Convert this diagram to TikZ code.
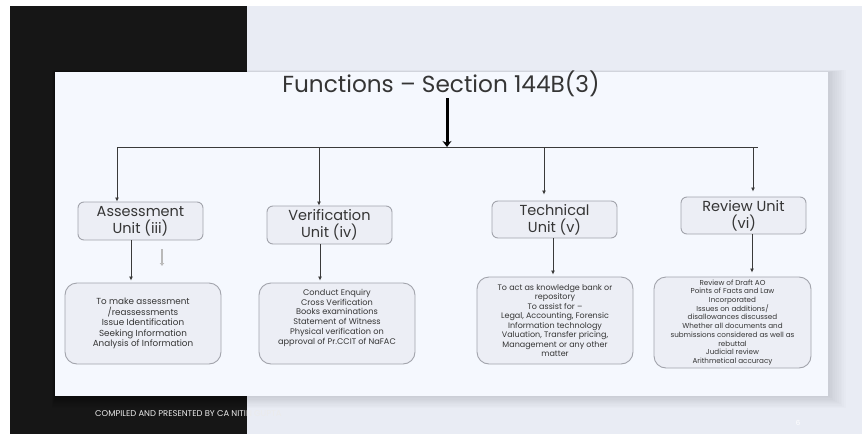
\documentclass[tikz,border=0pt]{standalone}
\usepackage{fontspec}
\setmainfont{Poppins}
\usetikzlibrary{arrows.meta}
\definecolor{slidebg}{HTML}{F5F8FE}
\definecolor{outerbg}{HTML}{E9ECF4}
\definecolor{darkband}{HTML}{161616}
\definecolor{boxfill}{HTML}{ECEEF5}
\definecolor{boxline}{HTML}{A2A4AC}
\definecolor{ink}{HTML}{353535}
\definecolor{wire}{HTML}{3A3A3A}
\tikzset{
  unitbox/.style={draw=boxline, fill=boxfill, line width=0.9pt, rounded corners=6pt,
    minimum width=125pt, minimum height=38pt, inner sep=0pt, align=center, text=ink,
    font=\fontsize{14.5}{16.8}\selectfont},
  detailbox/.style={draw=boxline, fill=boxfill, line width=0.9pt, rounded corners=12pt,
    minimum width=156pt, inner sep=0pt, align=center, text=ink},
  feed/.style={draw=wire, line width=0.9pt, -{Latex[length=4pt,width=4pt]}},
}
\begin{document}
\begin{tikzpicture}[x=1pt,y=-1pt]
  % page canvas
  \useasboundingbox (0,0) rectangle (862,434);
  \fill[white] (0,0) rectangle (862,434);
  \fill[outerbg] (247,6) rectangle (862,434);
  \fill[darkband] (10,6) rectangle (247,434);
  % soft shadow round the slide
  \foreach \d in {1,2,...,10}
    \fill[black, opacity=0.012] (55-\d*0.3,72-\d*0.2) rectangle (828+\d*1.8,396+\d*1.2);
  \fill[slidebg] (55,72) rectangle (828,396);

  % footer
  \node[text=white!92!black, font=\fontsize{8.4}{9}\selectfont, anchor=west, inner sep=0pt]
    (footer) at (95,414) {COMPILED AND PRESENTED BY CA NITIN GUPTA};
  \node[text=white, font=\fontsize{7}{8}\selectfont, inner sep=0pt] (pageno) at (798,423) {6};

  % title and main arrow
  \node[text=ink, font=\fontsize{23.2}{26}\selectfont, inner sep=0pt] (title) at (441,84)
    {Functions – Section 144B(3)};
  \coordinate (hub) at (447,147);
  \draw[black, line width=3pt, -{Stealth[length=6pt,width=9pt]}] (447,98) -- (hub);

  % units
  \node[unitbox] (ua) at (140.5,221) {Assessment\\Unit (iii)};
  \node[unitbox] (uv) at (329.5,225) {Verification\\Unit (iv)};
  \node[unitbox, minimum height=37pt] (ut) at (554.5,219.5) {Technical\\Unit (v)};
  \node[unitbox, minimum height=37pt] (ur) at (743.5,215.5) {Review Unit\\(vi)};

  % bus
  \coordinate (ba) at (117,147);
  \coordinate (bv) at (319,147);
  \coordinate (bt) at (544,147);
  \coordinate (br) at (753,147);
  \coordinate (bend) at (758,147);
  \draw[wire, line width=0.9pt] (ba) -- (bend);
  \draw[feed] (ba) -- (ba |- ua.north);
  \draw[feed] (bv) -- (bv |- uv.north);
  \draw[feed, shorten >=6pt] (bt) -- (bt |- ut.north);
  \draw[feed, shorten >=5pt] (br) -- (br |- ur.north);

  % detail boxes
  \node[detailbox, minimum height=81pt, font=\fontsize{8.8}{10.5}\selectfont] (da) at (143,323.5)
    {To make assessment\\/reassessments\\Issue Identification\\Seeking Information\\Analysis of Information};
  \node[detailbox, minimum height=81pt, font=\fontsize{8.2}{9.7}\selectfont] (dv) at (337,323.5)
    {Conduct Enquiry\\Cross Verification\\Books examinations\\Statement of Witness\\Physical verification on\\approval of Pr.CCIT of NaFAC\\[4pt]};
  \node[detailbox, minimum height=87pt, font=\fontsize{8}{9.5}\selectfont] (dt) at (555,320.5)
    {To act as knowledge bank or\\repository\\To assist for –\\Legal, Accounting, Forensic\\Information technology\\Valuation, Transfer pricing,\\Management or any other\\matter};
  \node[detailbox, minimum width=157pt, minimum height=91pt, font=\fontsize{7.2}{8.7}\selectfont] (dr) at (732.5,322.5)
    {Review of Draft AO\\Points of Facts and Law\\Incorporated\\Issues on additions/\\disallowances discussed\\Whether all documents and\\submissions considered as well as\\rebuttal\\Judicial review\\Arithmetical accuracy};

  % unit to detail connectors
  \draw[feed, shorten >=2pt] ([xshift=-9.5pt]ua.south) -- ([xshift=-9.5pt]ua.south |- da.north);
  \draw[feed, shorten >=2pt] ([xshift=-9.5pt]uv.south) -- ([xshift=-9.5pt]uv.south |- dv.north);
  \draw[feed, shorten >=2pt] ([xshift=-1.5pt]ut.south) -- ([xshift=-1.5pt]ut.south |- dt.north);
  \draw[feed, shorten >=4pt] ([xshift=8.5pt]ur.south) -- ([xshift=8.5pt]ur.south |- dr.north);

  % small grey marker arrow
  \draw[gray!55, line width=2pt, -{Latex[length=3pt,width=5pt]}] (162,249) -- (162,266);
\end{tikzpicture}
\end{document}
